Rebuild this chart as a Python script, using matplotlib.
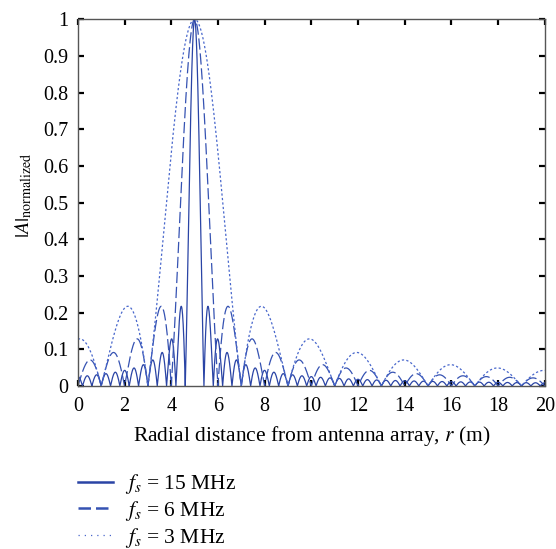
import numpy as np
import matplotlib
matplotlib.use("Agg")
import matplotlib.pyplot as plt

# Values
freqs_mhz = [15, 6, 3]            # sampling frequencies (legend)
main_lobe_r = [5.0, 5.0, 5.0]     # position of the main peak (m)
null_spacing = [0.4, 1.0, 2.0]    # spacing between nulls (m)
styles = ["-", "--", ":"]
colors = ["#2a44a5", "#3552b2", "#4867cc"]
x_ticks = list(range(0, 21, 2))
y_ticks = [0, 0.1, 0.2, 0.3, 0.4, 0.5, 0.6, 0.7, 0.8, 0.9, 1]
y_tick_labels = ["0", "0.1", "0.2", "0.3", "0.4", "0.5", "0.6", "0.7", "0.8", "0.9", "1"]

plt.rcParams["font.family"] = ["Liberation Serif", "DejaVu Serif"]
plt.rcParams["mathtext.fontset"] = "stix"

fig = plt.figure(figsize=(5.56, 5.49), dpi=100)
ax = fig.add_axes([0.140, 0.297, 0.840, 0.668])

r = np.linspace(0, 20, 4001)
for f, c0, d, ls, col in zip(freqs_mhz, main_lobe_r, null_spacing, styles, colors):
    a = np.abs(np.sinc((r - c0) / d))
    line, = ax.plot(r, a, ls, color=col, lw=0.9,
                    label=r"$f_s$ = %d MHz" % f)
    if ls == "--":
        line.set_dashes((9, 3))
    if ls == ":":
        line.set_dashes((1.8, 1.8))

ax.set_xlim(0, 20)
ax.set_ylim(0, 1)
ax.set_xticks(x_ticks)
ax.set_yticks(y_ticks)
ax.set_yticklabels(y_tick_labels)
ax.tick_params(direction="in", top=True, right=True, labelsize=14.5,
               length=4, width=1.6)
ax.tick_params(axis="y", pad=7)
ax.tick_params(axis="x", pad=8)
for s in ax.spines.values():
    s.set_color("#555555")
    s.set_linewidth(1.0)

ax.set_xlabel(r"Radial distance from antenna array, $r$ (m)", fontsize=15.5, labelpad=6)

# y label placed explicitly
fig.text(24 / 556, 1 - 195 / 549, r"$|A|_{\mathrm{normalized}}$", rotation=90,
         ha="center", va="center", fontsize=14.5)

handles, labels = ax.get_legend_handles_labels()
leg = fig.legend(handles, labels, loc="center left", bbox_to_anchor=(0.140, 1 - 511 / 549),
                 frameon=False, fontsize=15.5, handlelength=1.62, handletextpad=0.55,
                 labelspacing=0.13, borderpad=0, borderaxespad=0)
leg_lines = leg.get_lines()
leg_lines[0].set_linewidth(1.8)
leg_lines[1].set_linewidth(1.8)
leg_lines[1].set_dashes((5, 2))
leg_lines[2].set_linewidth(0.9)
leg_lines[2].set_dashes((1, 4))

fig.savefig("out.png", dpi=100)
